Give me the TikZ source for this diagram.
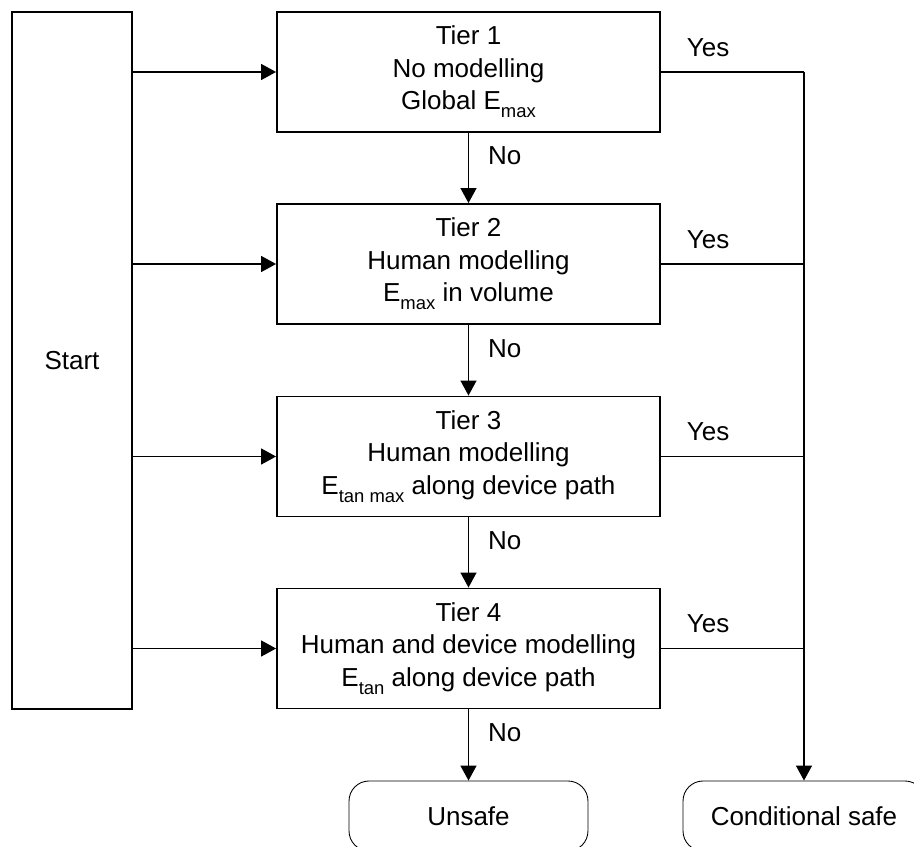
\documentclass[tikz,border=0pt]{standalone}
\usepackage{fontspec}
\setmainfont{Liberation Sans}
\usetikzlibrary{arrows.meta}
\newcommand{\subtxt}[1]{\raisebox{-4.5pt}{\fontsize{10.5}{10.5}\selectfont #1}}
\tikzset{
	startbox/.style={draw=black,line width=1.1pt,minimum width=2.4cm,minimum height=13.94cm},
	tierbox/.style={draw=black,line width=1.1pt,minimum width=7.66cm,minimum height=2.4cm,align=center},
	endbox/.style={draw=black,line width=0.5pt,rounded corners=0.4cm,minimum height=1.4cm},
	flowline/.style={draw=black,line width=0.8pt},
	flowarrow/.style={-{Triangle[length=0.3cm,width=0.32cm]},line width=0.8pt}
}
\begin{document}
\begin{tikzpicture}[x=0.02cm,y=-0.02cm,font=\fontsize{14.8}{18.5}\selectfont,
			nolabel/.style={pos=0.33,right=0.38cm,inner sep=0pt},
			yeslabel/.style={pos=0.33,above=0.3cm,inner sep=0pt}]
			\useasboundingbox (0,0) rectangle (914,847);
			\clip (0,0) rectangle (914,847);
			\node[startbox] (start) at (72,360.5) {Start};
			\node[tierbox] (tier1) at (468.5,72) {Tier 1\\No modelling\\Global E\subtxt{max}};
			\node[tierbox] (tier2) at (468.5,264) {Tier 2\\Human modelling\\E\subtxt{max} in volume};
			\node[tierbox] (tier3) at (468.5,456.5) {Tier 3\\Human modelling\\E\subtxt{tan max} along device path};
			\node[tierbox] (tier4) at (468.5,648.5) {Tier 4\\Human and device modelling\\E\subtxt{tan} along device path};
			\node[endbox,minimum width=4.78cm] (unsafe) at (468.5,816) {Unsafe};
			\node[endbox,minimum width=4.84cm] (csafe) at (804,816) {Conditional safe};
			\coordinate (join) at (804,72);
			% start feeds every tier
			\foreach \t in {1,2,3,4}
				\draw[flowarrow] (start.east |- tier\t.west) -- (tier\t.west);
			% no branch
			\draw[flowarrow] (tier1) -- node[nolabel] {No} (tier2);
			\draw[flowarrow] (tier2) -- node[nolabel] {No} (tier3);
			\draw[flowarrow] (tier3) -- node[nolabel] {No} (tier4);
			\draw[flowarrow] (tier4) -- node[nolabel] {No} (unsafe);
			% yes branch
			\draw[flowline] (tier1.east) -- node[yeslabel] {Yes} (join);
			\foreach \t in {2,3,4}
				\draw[flowline] (tier\t.east) -- node[yeslabel] {Yes} (join |- tier\t.east);
			\draw[flowarrow] (join) -- (csafe.north);
\end{tikzpicture}
\end{document}
